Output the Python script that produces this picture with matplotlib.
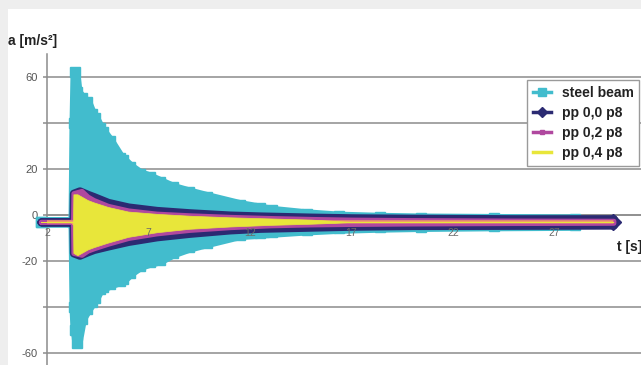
import matplotlib
matplotlib.use("Agg")
import matplotlib.pyplot as plt
import numpy as np
from matplotlib.lines import Line2D
from matplotlib.patches import Rectangle

plt.rcParams['font.family'] = ['Liberation Sans', 'DejaVu Sans']

# ---- acceleration envelopes (upper / lower peaks) over time ----
t_steel = [1.70, 3.28, 3.33, 3.38, 3.48, 3.70, 3.97, 4.20, 4.36, 4.60, 4.76, 5.10,
           5.60, 5.74, 6.09, 6.58, 7.07, 7.57, 8.20, 9.00, 9.88, 11.5, 12.5, 13.1,
           14.8, 16.4, 18.4, 20.4, 24.0, 28.0]
steel_up = [-3, -3, 40, 62, 53.5, 51, 49, 44, 42, 38, 36, 32,
            25, 24, 21, 18, 16.5, 14.5, 12, 10, 8, 4.5, 3, 2,
            0.5, -0.5, -1, -1.3, -1.5, -1.7]
steel_lo = [-3, -3, -40, -50, -55.6, -45, -41, -38, -36, -32, -31.5, -30,
            -28.5, -28, -25, -22, -20.5, -19.5, -16.5, -14, -12, -8.5, -8, -7.5,
            -6.5, -5.8, -5.3, -5.0, -4.7, -4.5]

t_pp00 = [1.70, 3.28, 3.30, 3.60, 4.00, 4.30, 5.00, 6.00, 7.40, 9.00, 11.0, 12.5,
          15.0, 17.0, 20.0, 25.0, 29.9]
pp00_up = [-3, -3, 9.5, 10.5, 9, 8, 5.5, 3.5, 2, 1, 0, -0.4,
           -0.9, -1.2, -1.4, -1.6, -1.6]
pp00_lo = [-3, -3, -16.5, -17.5, -16, -15, -13.5, -11.5, -9.5, -8, -6.5, -5.8,
           -5.3, -4.9, -4.6, -4.5, -4.4]

t_pp02 = [1.70, 3.28, 3.30, 3.70, 4.00, 4.30, 5.00, 6.00, 7.40, 9.00, 11.0, 13.0,
          15.0, 17.0, 20.0, 25.0, 29.9]
pp02_up = [-3, -3, 9.5, 10.5, 8, 6.5, 4, 2, 0.6, -0.1, -0.8, -1.3,
           -1.7, -2.0, -2.2, -2.4, -2.5]
pp02_lo = [-3, -3, -16.5, -17.3, -15.5, -14.5, -12.5, -10, -8, -6.5, -5.3, -4.5,
           -4.1, -3.9, -3.7, -3.5, -3.4]

t_pp04 = [1.70, 3.28, 3.30, 3.50, 4.00, 4.30, 5.00, 6.00, 7.40, 9.00, 11.0, 13.0,
          15.0, 16.2, 17.0, 29.9]
pp04_up = [-3, -3, 9, 9, 6.5, 5.5, 3.5, 1.5, 0.5, -0.3, -1, -1.5,
           -2, -2.6, -3, -3]
pp04_lo = [-3, -3, -16.5, -17.5, -15, -14, -12, -9.5, -7.5, -6, -5, -4.3,
           -3.8, -3.4, -3, -3]

series_names = ['steel beam', 'pp 0,0 p8', 'pp 0,2 p8', 'pp 0,4 p8']

y_ticks = [-60, -40, -20, 0, 20, 40, 60]
y_tick_labels = ['-60', '', '-20', '0', '20', '', '60']
x_ticks = [2, 7, 12, 17, 22, 27]
x_tick_labels = ['2', '7', '12', '17', '22', '27']

C_STEEL = '#42bccd'
C_PP00 = '#2b2a72'
C_PP02 = '#b0489f'
C_PP04 = '#e8e63a'
C_MID = '#f2a068'
GRID = '#8c8c8c'

W, H = 641, 365
fig = plt.figure(figsize=(W / 100, H / 100), dpi=100)
fig.patch.set_facecolor('#eeeeee')
fig.add_artist(Rectangle((8 / W, 0), 1, (H - 9) / H, transform=fig.transFigure,
                         facecolor='white', edgecolor='none', zorder=-5))

ax = fig.add_axes([47 / W, -11 / H, 594 / W, 322 / H])
ax.set_facecolor('none')
ax.set_xlim(2, 31.26)
ax.set_ylim(-70, 70)

ax.spines['top'].set_visible(False)
ax.spines['right'].set_visible(False)
ax.spines['left'].set_position(('data', 2))
ax.spines['bottom'].set_position(('data', 0))
for s in ('left', 'bottom'):
    ax.spines[s].set_color(GRID)
    ax.spines[s].set_linewidth(1.1)
    ax.spines[s].set_zorder(0.6)

ax.set_axisbelow(True)
ax.yaxis.grid(True, color=GRID, linewidth=1.1)
ax.set_yticks(y_ticks)
ax.set_yticklabels(y_tick_labels)
ax.tick_params(axis='y', direction='out', length=3, width=1.1, color=GRID,
               labelsize=8, labelcolor='#555555', pad=3.5)
ax.set_xticks(x_ticks)
ax.set_xticklabels(x_tick_labels)
ax.tick_params(axis='x', length=0, labelsize=7.5, labelcolor='#6a6a6a', pad=9)
ax.xaxis.set_zorder(8)


def band(t, up, lo, color, lw, z):
    ax.fill_between(t, lo, up, facecolor=color, edgecolor=color, linewidth=lw,
                    joinstyle='round', capstyle='round', zorder=z, clip_on=False)


# steel beam: square markers on the peaks
band(t_steel, steel_up, steel_lo, C_STEEL, 7.2, 2)
ax.plot(t_steel, steel_up, 's', ms=7, color=C_STEEL, zorder=2, clip_on=False)
ax.plot(t_steel, steel_lo, 's', ms=7, color=C_STEEL, zorder=2, clip_on=False)

# pp 0,0 p8
band(t_pp00, pp00_up, pp00_lo, C_PP00, 5.8, 3)
mid00 = (pp00_up[-1] + pp00_lo[-1]) / 2
ax.plot([t_pp00[-1]], [mid00], 'D', ms=8, color=C_PP00, zorder=3, clip_on=False)

# pp 0,2 p8
band(t_pp02, pp02_up, pp02_lo, C_PP02, 3.6, 4)

# pp 0,4 p8
mid04 = (np.array(pp04_up) + np.array(pp04_lo)) / 2
ax.plot(t_pp04, mid04, color=C_MID, lw=2.3, zorder=5, solid_capstyle='butt')
band(t_pp04, pp04_up, pp04_lo, C_PP04, 0.5, 6)

fig.text(8 / W, 1 - 41 / H, 'a [m/s²]', ha='left', va='center',
         fontsize=10, fontweight='bold', color='#222222')
fig.text(1.002, 1 - 247 / H, 't [s]', ha='right', va='center',
         fontsize=10, fontweight='bold', color='#222222')

handles = [
    Line2D([], [], color=C_STEEL, lw=2.5, marker='s', ms=6),
    Line2D([], [], color=C_PP00, lw=2.5, marker='D', ms=5),
    Line2D([], [], color=C_PP02, lw=2.5, marker='s', ms=3),
    Line2D([], [], color=C_PP04, lw=2.5),
]
leg = ax.legend(handles, series_names, loc='upper left',
                bbox_to_anchor=((527 - 47) / 594, (376 - 80) / 322),
                borderaxespad=0, frameon=True, fancybox=False, framealpha=1,
                edgecolor='#9a9a9a', prop={'weight': 'bold', 'size': 10},
                handlelength=1.3, handletextpad=0.8, labelspacing=0.45,
                borderpad=0.4)
leg.get_frame().set_linewidth(1.0)
leg.set_zorder(10)
for txt in leg.get_texts():
    txt.set_color('#222222')

fig.savefig('out.png', dpi=100, facecolor=fig.get_facecolor())
